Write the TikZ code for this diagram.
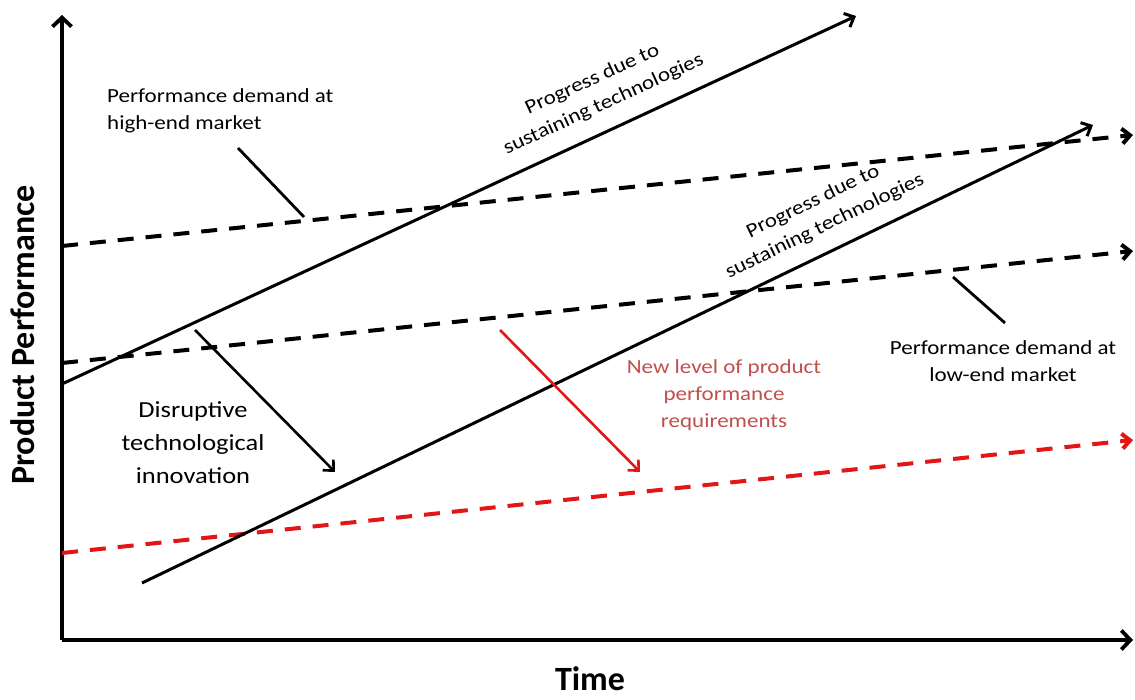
\documentclass[tikz,border=0pt]{standalone}
\usepackage{fontspec}
\setmainfont{Carlito}[FakeStretch=1.15]
\newfontfamily\axisfont{Carlito}
\usetikzlibrary{arrows.meta}
\definecolor{reqred}{RGB}{192,80,77}
\definecolor{linered}{RGB}{226,22,22}

\begin{document}
\begin{tikzpicture}[x=1pt,y=-1pt,
  axis/.style={line width=3.8pt,-{Straight Barb[length=9pt,width=19pt]}},
  trend/.style={line width=3pt,-{Straight Barb[length=8pt,width=15pt]}},
  demand/.style={trend,line width=4pt,dash pattern=on 16pt off 12pt},
  pointer/.style={line width=2.8pt},
  label/.style={inner sep=0pt,font=\fontsize{20}{27}\selectfont,align=center},
  axislabel/.style={inner sep=0pt,font=\axisfont\bfseries\fontsize{34}{40}\selectfont}]
  \useasboundingbox (0,0) rectangle (1135,700);
  % axes
  \coordinate (origin) at (62,640);
  \coordinate (ytop) at (62,15);
  \coordinate (xend) at (1133,640);
  \draw[axis] (origin) -- (ytop);
  \draw[axis] (origin) -- (xend);
  \node[axislabel] (time) at (590,679) {Time};
  \node[axislabel,rotate=90] (perf) at (23,335) {Product Performance};
  % demand levels
  \coordinate (highA) at (62,246);
  \coordinate (highB) at (1133,135);
  \coordinate (lowA) at (62,363);
  \coordinate (lowB) at (1133,251);
  \coordinate (newA) at (62,553);
  \coordinate (newB) at (1133,440);
  \draw[demand] (highA) -- (highB);
  \draw[demand] (lowA) -- (lowB);
  \draw[demand,linered] (newA) -- (newB);
  % sustaining technologies
  \coordinate (sustA) at (62,384);
  \coordinate (sustB) at (856,16);
  \coordinate (disA) at (142,583);
  \coordinate (disB) at (1093,125);
  \draw[trend] (sustA) -- (sustB);
  \draw[trend] (disA) -- (disB);
  \node[label,rotate=24.7] (prog1) at (598,92) {Progress due to\\sustaining technologies};
  \node[label,rotate=25.8] (prog2) at (819,214) {Progress due to\\sustaining technologies};
  % market labels
  \node[label,align=left,anchor=west] (high) at (107,111) {Performance demand at\\high-end market};
  \node[label] (low) at (1003,361) {Performance demand at\\low-end market};
  \coordinate (highP) at (238,148);
  \coordinate (highQ) at (304,217);
  \coordinate (lowP) at (953,277);
  \coordinate (lowQ) at (1005,323);
  \draw[pointer] (highP) -- (highQ);
  \draw[pointer] (lowP) -- (lowQ);
  % shifts
  \node[label,font=\fontsize{23}{33}\selectfont] (disrupt) at (193,443) {Disruptive\\technological\\innovation};
  \node[label,reqred] (newlevel) at (724,395) {New level of product\\performance\\requirements};
  \coordinate (dropA) at (195,330);
  \coordinate (dropB) at (335,472);
  \coordinate (redA) at (500,330);
  \coordinate (redB) at (640,472);
  \draw[trend,line width=2.6pt] (dropA) -- (dropB);
  \draw[trend,line width=2.6pt,linered] (redA) -- (redB);
\end{tikzpicture}
\end{document}
